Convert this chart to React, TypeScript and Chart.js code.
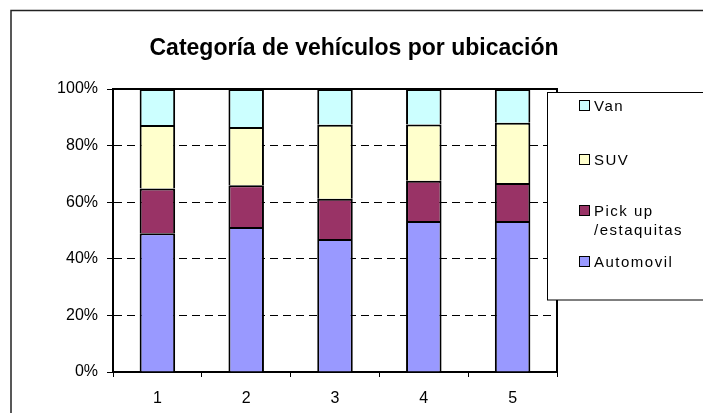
import React, { useEffect, useRef } from "react";
import { Chart, registerables } from "chart.js";

Chart.register(...registerables);

const chartTitle = "Categoría de vehículos por ubicación";
const categories = ["1", "2", "3", "4", "5"];
const automovil = [49.0, 51.2, 47.0, 53.4, 53.4];
const pickup = [15.8, 14.8, 14.2, 14.2, 13.4];
const suv = [22.5, 20.6, 26.2, 19.9, 21.3];
const van = [12.7, 13.4, 12.6, 12.5, 11.9];
const seriesLabels = ["Automovil", "Pick up /estaquitas", "SUV", "Van"];
const seriesColors = ["#9999FF", "#993366", "#FFFFCC", "#CCFFFF"];
const yTickValues = [0, 20, 40, 60, 80, 100];

const FONT = "Arial, 'Liberation Sans', sans-serif";

function wrapText(ctx: CanvasRenderingContext2D, text: string, maxW: number): string[] {
  const words = text.split(" ");
  const lines: string[] = [];
  let cur = "";
  for (const w of words) {
    const test = cur ? cur + " " + w : w;
    if (ctx.measureText(test).width > maxW && cur) {
      lines.push(cur);
      cur = w;
    } else cur = test;
  }
  if (cur) lines.push(cur);
  return lines;
}

const decorPlugin = {
  id: "decor",
  beforeDraw(chart: any) {
    const ctx = chart.ctx as CanvasRenderingContext2D;
    ctx.save();
    ctx.fillStyle = "#fff";
    ctx.fillRect(0, 0, chart.width, chart.height);
    ctx.strokeStyle = "#222";
    ctx.lineWidth = 1.5;
    ctx.beginPath();
    ctx.moveTo(11, chart.height + 5);
    ctx.lineTo(11, 10.5);
    ctx.lineTo(chart.width + 5, 10.5);
    ctx.stroke();
    ctx.restore();
  },
  afterDraw(chart: any) {
    const ctx = chart.ctx as CanvasRenderingContext2D;
    const a = chart.chartArea;
    ctx.save();
    // plot frame top/right
    ctx.strokeStyle = "#000";
    ctx.lineWidth = 2;
    ctx.beginPath();
    ctx.moveTo(a.left, a.top);
    ctx.lineTo(a.right, a.top);
    ctx.lineTo(a.right, a.bottom);
    ctx.stroke();

    // title
    ctx.fillStyle = "#000";
    ctx.font = `bold 23px ${FONT}`;
    ctx.textAlign = "center";
    ctx.textBaseline = "middle";
    ctx.fillText(chartTitle, 354, 49);

    // legend
    const bx = 547.5, by = 92.5, bh = 207.5;
    ctx.fillStyle = "#fff";
    ctx.fillRect(bx, by, chart.width, bh);
    ctx.strokeStyle = "#000";
    ctx.lineWidth = 1;
    ctx.strokeRect(bx, by, chart.width, bh);

    const rowY = [262, 211, 160, 106];
    ctx.font = `15px ${FONT}`;
    (ctx as any).letterSpacing = "1.5px";
    ctx.textAlign = "left";
    for (let i = seriesLabels.length - 1; i >= 0; i--) {
      const y = rowY[i];
      ctx.fillStyle = seriesColors[i];
      ctx.fillRect(579.5, y - 5.5, 10, 10);
      ctx.strokeStyle = "#000";
      ctx.lineWidth = 1;
      ctx.strokeRect(579.5, y - 5.5, 10, 10);
      ctx.fillStyle = "#000";
      const lines = wrapText(ctx, seriesLabels[i], 100);
      lines.forEach((ln, k) => ctx.fillText(ln, 594, y + 1 + k * 19));
    }
    ctx.restore();
  },
};

export default function App() {
  const ref = useRef<HTMLCanvasElement>(null);
  useEffect(() => {
    if (!ref.current) return;
    const seriesData = [automovil, pickup, suv, van];
    const chart = new Chart(ref.current, {
      type: "bar",
      data: {
        labels: categories,
        datasets: seriesLabels.map((lbl, i) => ({
          label: lbl,
          data: seriesData[i],
          backgroundColor: seriesColors[i],
          borderColor: "#000",
          borderWidth: 2,
          barPercentage: 0.4,
          categoryPercentage: 1,
        })),
      },
      options: {
        responsive: false,
        animation: false,
        devicePixelRatio: 1,
        layout: { padding: { left: 0, top: 89, right: 146, bottom: 0 } },
        plugins: {
          legend: { display: false },
          title: { display: false },
          tooltip: { enabled: false },
        },
        scales: {
          x: {
            stacked: true,
            grid: {
              display: true,
              drawOnChartArea: false,
              drawTicks: true,
              tickLength: 5,
              color: "#000",
              offset: true,
            },
            border: { display: true, color: "#000", width: 2 },
            ticks: {
              color: "#000",
              font: { family: FONT, size: 16 },
              padding: 12,
              maxRotation: 0,
            },
            afterFit: (s: any) => {
              s.height = 41;
            },
          },
          y: {
            stacked: true,
            min: 0,
            max: 100,
            afterBuildTicks: (s: any) => {
              s.ticks = yTickValues.map((v) => ({ value: v }));
            },
            grid: {
              color: "#000",
              lineWidth: 1,
              drawTicks: true,
              tickLength: 6,
              tickColor: "#000",
            },
            border: {
              display: true,
              color: "#000",
              width: 2,
              dash: [8, 5],
            },
            ticks: {
              color: "#000",
              font: { family: FONT, size: 16 },
              padding: 9,
              callback: (v: any) => v + "%",
            },
            afterFit: (s: any) => {
              s.width = 113;
            },
          },
        },
      },
      plugins: [decorPlugin],
    });
    return () => chart.destroy();
  }, []);
  return (
    <div style={{ position: "absolute", left: 0, top: 0, width: 703, height: 413 }}>
      <canvas ref={ref} width={703} height={413} style={{ width: 703, height: 413 }} />
    </div>
  );
}
